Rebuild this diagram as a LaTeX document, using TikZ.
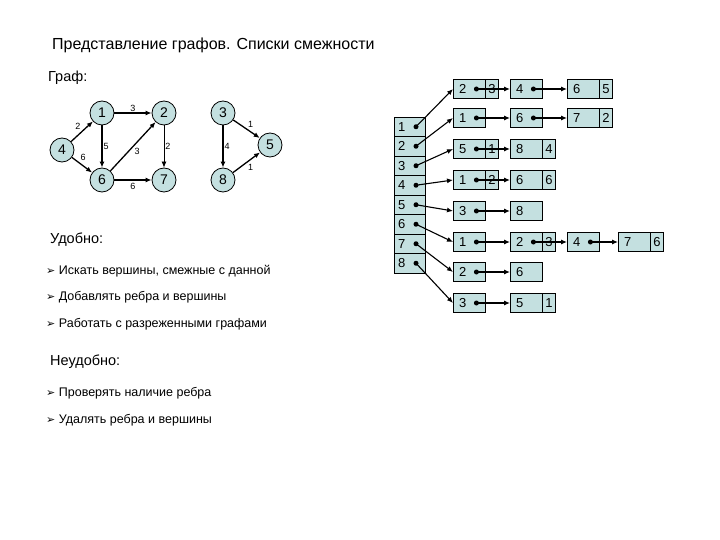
\documentclass[tikz,border=0pt]{standalone}
\usepackage{fontspec}
\setmainfont{Liberation Sans}
\newfontfamily\djv{DejaVu Sans}
\usetikzlibrary{arrows.meta}
\definecolor{cell}{HTML}{C4E0E0}
\tikzset{
 vx/.style={circle,draw,thick,fill=cell,minimum size=24pt,inner sep=0pt,font=\fontsize{14}{14}\selectfont},
 ed/.style={-{Latex[length=6pt,width=5pt]},line width=1.3pt},
 wl/.style={font=\fontsize{9}{9}\selectfont,inner sep=1pt},
 vc/.style={draw,fill=cell,minimum height=19pt,inner xsep=6pt,inner ysep=0pt,text width=20pt,align=left,anchor=west,font=\fontsize{13}{13}\selectfont},
 wc/.style={draw,fill=cell,minimum width=13pt,minimum height=19pt,inner sep=0pt,anchor=west,font=\fontsize{13}{13}\selectfont},
 ac/.style={draw,fill=cell,minimum height=19.5pt,inner xsep=4pt,inner ysep=0pt,text width=23pt,align=left,font=\fontsize{13}{13}\selectfont},
 pt/.style={-{Latex[length=6pt,width=5pt]},line width=1.1pt},
 dt/.style={circle,fill=black,inner sep=0pt,minimum size=5pt},
 txt/.style={anchor=west,font=\fontsize{12.5}{14}\selectfont,inner sep=0pt},
 hd/.style={anchor=west,font=\fontsize{14.5}{16}\selectfont,inner sep=0pt},
}
\newcommand{\bul}{{\djv\fontsize{11}{12}\selectfont ➢}}
\begin{document}
\begin{tikzpicture}[x=1pt,y=-1pt]
\useasboundingbox (0,0) rectangle (720,540);
\node[anchor=west,font=\fontsize{16}{17}\selectfont,inner sep=0pt] (title) at (52,45) {Представление графов. Списки смежности};
\node[hd] (graf) at (48,78) {Граф:};
% graph
\node[vx] (g1) at (102,113) {1};
\node[vx] (g2) at (164,113) {2};
\node[vx] (g4) at (62,150) {4};
\node[vx] (g6) at (102,180) {6};
\node[vx] (g7) at (164,180) {7};
\node[vx] (g3) at (223,113) {3};
\node[vx] (g5) at (270,145) {5};
\node[vx] (g8) at (223,180) {8};
\draw[ed] (g4) -- node[wl,above left] {2} (g1);
\draw[ed] (g4) -- node[wl,above right,pos=0.35] {6} (g6);
\draw[ed] (g1) -- node[wl,above] {3} (g2);
\draw[ed] (g1) -- node[wl,right] {5} (g6);
\draw[ed] (g6) -- node[wl,below right] {3} (g2);
\draw[ed,line width=0.8pt] (g2) -- node[wl,right] {2} (g7);
\draw[ed] (g6) -- node[wl,below=2pt] {6} (g7);
\draw[ed] (g3) -- node[wl,above right] {1} (g5);
\draw[ed] (g3) -- node[wl,right] {4} (g8);
\draw[ed] (g8) -- node[wl,below right] {1} (g5);
% left texts
\node[hd] (udob) at (50,240) {Удобно:};
\node[txt] (i1) at (46,271) {\bul\ Искать вершины, смежные с данной};
\node[txt] (i2) at (46,297) {\bul\ Добавлять ребра и вершины};
\node[txt] (i3) at (46,324) {\bul\ Работать с разреженными графами};
\node[hd] (neud) at (50,362) {Неудобно:};
\node[txt] (i4) at (46,393) {\bul\ Проверять наличие ребра};
\node[txt] (i5) at (46,420) {\bul\ Удалять ребра и вершины};
% array
\foreach \i in {1,...,8}{
  \node[ac] (a\i) at (409.5,{107.25+19.5*\i}) {\i};
  \node[dt] (ad\i) at (416,{107.25+19.5*\i}) {};
}
% row 1
\node[vc] (r1a) at (453,89) {2}; \node[wc] (r1aw) at (r1a.east) {3};
\node[vc] (r1b) at (510,89) {4};
\node[vc] (r1c) at (567,89) {6}; \node[wc] (r1cw) at (r1c.east) {5};
% row 2
\node[vc] (r2a) at (453,118) {1};
\node[vc] (r2b) at (510,118) {6};
\node[vc] (r2c) at (567,118) {7}; \node[wc] (r2cw) at (r2c.east) {2};
% row 3
\node[vc] (r3a) at (453,149) {5}; \node[wc] (r3aw) at (r3a.east) {1};
\node[vc] (r3b) at (510,149) {8}; \node[wc] (r3bw) at (r3b.east) {4};
% row 4
\node[vc] (r4a) at (453,180) {1}; \node[wc] (r4aw) at (r4a.east) {2};
\node[vc] (r4b) at (510,180) {6}; \node[wc] (r4bw) at (r4b.east) {6};
% row 5
\node[vc] (r5a) at (453,211) {3};
\node[vc] (r5b) at (510,211) {8};
% row 6
\node[vc] (r6a) at (453,242) {1};
\node[vc] (r6b) at (510,242) {2}; \node[wc] (r6bw) at (r6b.east) {3};
\node[vc] (r6c) at (567,242) {4};
\node[vc] (r6d) at (618,242) {7}; \node[wc] (r6dw) at (r6d.east) {6};
% row 7
\node[vc] (r7a) at (453,272) {2};
\node[vc] (r7b) at (510,272) {6};
% row 8
\node[vc] (r8a) at (453,303) {3};
\node[vc] (r8b) at (510,303) {5}; \node[wc] (r8bw) at (r8b.east) {1};
% array pointers
\foreach \i in {1,...,8}{ \draw[pt] (ad\i.center) -- (r\i a.west); }
% chain pointers
\foreach \r/\a/\b in {1/a/b,1/b/c,2/a/b,2/b/c,3/a/b,4/a/b,5/a/b,6/a/b,6/b/c,6/c/d,7/a/b,8/a/b}{
  \node[dt] (d\r\a) at ([xshift=-9pt]r\r\a.east) {};
  \draw[pt] (d\r\a.center) -- (r\r\b.west);
}
\end{tikzpicture}
\end{document}
